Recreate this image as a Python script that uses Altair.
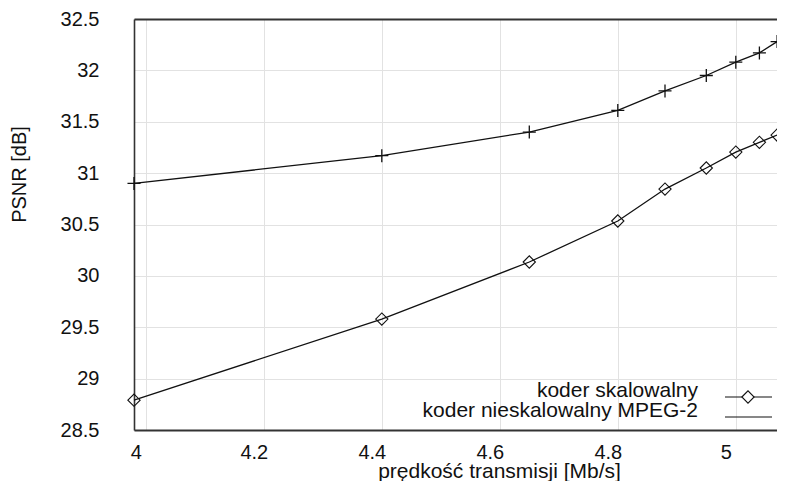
import altair as alt
import pandas as pd

# ---- data ----
rate = [3.98, 4.40, 4.65, 4.80, 4.88, 4.95, 5.00, 5.04, 5.07]
psnr_scalable = [28.79, 29.58, 30.135, 30.534, 30.845, 31.05, 31.205, 31.30, 31.37]
psnr_mpeg2 = [30.90, 31.17, 31.40, 31.61, 31.80, 31.95, 32.08, 32.17, 32.28]
series_names = ["koder skalowalny", "koder nieskalowalny MPEG-2"]
x_ticks = [4.0, 4.2, 4.4, 4.6, 4.8, 5.0]
y_ticks = [28.5, 29.0, 29.5, 30.0, 30.5, 31.0, 31.5, 32.0, 32.5]
x_title = "prędkość transmisji [Mb/s]"
y_title = "PSNR [dB]"

FONT = "Liberation Sans"
INK = "#111111"
W, H = 643, 411
X_MIN, PX_PER_UNIT = 3.98, 590.0

df = pd.DataFrame({
    "rate": rate + rate,
    "psnr": psnr_scalable + psnr_mpeg2,
    "series": [series_names[0]] * len(rate) + [series_names[1]] * len(rate),
})

xscale = alt.Scale(domain=[X_MIN, X_MIN + W / PX_PER_UNIT], nice=False, zero=False)
yscale = alt.Scale(domain=[28.5, 32.5], nice=False, zero=False)

x_main = alt.X(
    "rate:Q", scale=xscale,
    axis=alt.Axis(
        values=x_ticks, format="~g", ticks=False, grid=True,
        gridColor="#e2e2e2", gridWidth=1,
        domainColor="#333333", domainWidth=1.8,
        labelFont=FONT, labelFontSize=20, labelColor=INK,
        labelPadding=12, labelOffset=-10,
        title=x_title, titleFont=FONT, titleFontSize=21, titleFontWeight="normal",
        titleColor=INK, titleX=365, titleY=47, titleBaseline="alphabetic",
    ),
)
y_axis = alt.Axis(
    values=y_ticks, format="~g", ticks=False, grid=True,
    gridColor="#e2e2e2", gridWidth=1,
    domainColor="#333333", domainWidth=1.6,
    labelFont=FONT, labelFontSize=20, labelColor=INK, labelPadding=35,
    title=y_title, titleFont=FONT, titleFontSize=20, titleFontWeight="normal",
    titleColor=INK, titleX=-109, titleY=155, titleBaseline="alphabetic",
)
y_main = alt.Y("psnr:Q", scale=yscale, axis=y_axis)

x_plain = alt.X("rate:Q", scale=xscale, axis=None)

base = alt.Chart(df)

lines = base.mark_line(color=INK, strokeWidth=1.3).encode(
    x=x_main, y=y_main, detail="series:N"
)

diamonds = base.transform_filter(
    alt.datum.series == series_names[0]
).mark_point(shape="diamond", size=150, filled=False, color=INK, strokeWidth=1.1, opacity=1).encode(
    x=x_plain, y=y_main
)

plus_shape = "M-1,0L1,0M0,-1L0,1"
pluses = base.transform_filter(
    alt.datum.series == series_names[1]
).mark_point(shape=plus_shape, size=170, filled=False, color=INK, strokeWidth=1.3, opacity=1).encode(
    x=x_plain, y=y_main
)

# top frame line as a second (label-less) x axis
top_axis = base.mark_point(opacity=0).encode(
    x=alt.X("rate:Q", scale=xscale,
            axis=alt.Axis(orient="top", labels=False, ticks=False, grid=False,
                          title=None, domainColor="#333333", domainWidth=2)),
    y=y_main,
)

# legend (inside lower right)
leg1 = pd.DataFrame({"label": [series_names[0]]})
leg2 = pd.DataFrame({"label": [series_names[1]]})
LX_TEXT, LX0, LX1, LXM = 564, 591, 638, 614
LY1, LY2 = 378, 398

leg_text1 = alt.Chart(leg1).mark_text(
    align="right", baseline="alphabetic", font=FONT, fontSize=21, color=INK
).encode(text="label:N", x=alt.value(LX_TEXT), y=alt.value(LY1))
leg_text2 = alt.Chart(leg2).mark_text(
    align="right", baseline="alphabetic", font=FONT, fontSize=21, color=INK
).encode(text="label:N", x=alt.value(LX_TEXT), y=alt.value(LY2))
leg_rule1 = alt.Chart(leg1).mark_rule(color=INK, strokeWidth=1.2).encode(
    x=alt.value(LX0), x2=alt.value(LX1), y=alt.value(LY1))
leg_rule2 = alt.Chart(leg2).mark_rule(color=INK, strokeWidth=1.2).encode(
    x=alt.value(LX0), x2=alt.value(LX1), y=alt.value(LY2))
leg_diamond = alt.Chart(leg1).mark_point(
    shape="diamond", size=150, filled=True, fill="white", stroke=INK, strokeWidth=1.1, opacity=1
).encode(x=alt.value(LXM), y=alt.value(LY1))

chart = alt.layer(
    lines, top_axis, diamonds, pluses,
    leg_text1, leg_text2, leg_rule1, leg_rule2, leg_diamond,
).resolve_axis(x="independent").properties(
    width=W, height=H,
    padding={"left": 126, "top": 11, "right": 0, "bottom": 51},
    autosize=alt.AutoSizeParams(type="none"),
    background="white",
).configure_view(stroke="transparent")

chart.save("out.html", embed_options={"renderer": "svg", "actions": False})
